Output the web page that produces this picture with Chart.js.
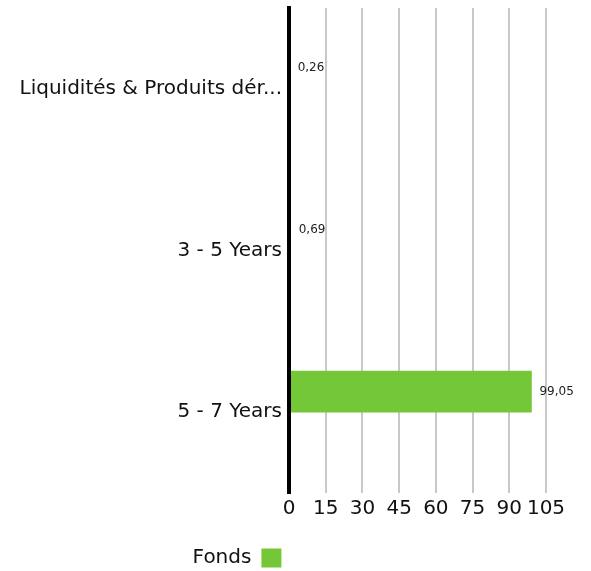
<!DOCTYPE html>
<html>
<head>
<meta charset="utf-8">
<script src="https://cdn.jsdelivr.net/npm/chart.js@4/dist/chart.umd.min.js"></script>
<style>
  html, body { margin: 0; padding: 0; background: #ffffff; }
  #wrap { width: 591px; height: 571px; position: relative; }
</style>
</head>
<body>
<div id="wrap"><canvas id="c" width="591" height="571"></canvas></div>
<script>
const categories = ["Liquidités & Produits dérivés", "3 - 5 Years", "5 - 7 Years"];
const fondsValues = [0.26, 0.69, 99.05];
const seriesLabel = "Fonds";
const xTicks = [0, 15, 30, 45, 60, 75, 90, 105];

const FONT = "'DejaVu Sans', sans-serif";

function truncate(s, n) {
  return s.length > n ? s.slice(0, n) + "..." : s;
}

const valueLabels = {
  id: 'valueLabels',
  afterDatasetsDraw(chart) {
    const ctx = chart.ctx;
    const meta = chart.getDatasetMeta(0);
    ctx.save();
    ctx.font = "12px " + FONT;
    ctx.fillStyle = '#222222';
    ctx.textAlign = 'left';
    ctx.textBaseline = 'middle';
    meta.data.forEach((bar, i) => {
      const v = chart.data.datasets[0].data[i];
      ctx.fillText(v.toFixed(2).replace('.', ','), bar.x + 8, bar.y);
    });
    ctx.restore();
  }
};

const legendShift = {
  id: 'legendShift',
  afterLayout(chart) {
    const lg = chart.legend;
    if (lg) { lg.left -= 36; lg.right -= 36; lg.top += 7; lg.bottom += 7; }
  }
};

new Chart(document.getElementById('c'), {
  type: 'bar',
  data: {
    labels: categories,
    datasets: [
      { label: seriesLabel, data: fondsValues, backgroundColor: '#74c837', borderWidth: 0, barThickness: 41 },
      { label: '', data: [null, null, null], backgroundColor: 'rgba(0,0,0,0)', borderWidth: 0, barThickness: 41 }
    ]
  },
  options: {
    indexAxis: 'y',
    responsive: false,
    animation: false,
    layout: { padding: { top: 8, right: 45, bottom: 0, left: 0 } },
    scales: {
      x: {
        min: 0, max: 105,
        afterBuildTicks(axis) { axis.ticks = xTicks.map(v => ({ value: v })); },
        ticks: { font: { family: FONT, size: 20 }, color: '#111111', padding: 4, maxRotation: 0, autoSkip: false },
        grid: { color: '#c8c8c8', lineWidth: 2, drawTicks: false },
        border: { display: false }
      },
      y: {
        z: 1,
        afterFit(scale) { scale.paddingTop = 0; scale.paddingBottom = 0; scale.width = 289; },
        ticks: {
          font: { family: FONT, size: 20 }, color: '#111111', padding: 7,
          callback(v) { return truncate(this.getLabelForValue(v), 25); }
        },
        grid: { display: false, drawTicks: false },
        border: { display: true, color: '#000000', width: 4, z: 1 }
      }
    },
    plugins: {
      legend: {
        position: 'bottom',
        rtl: true,
        textDirection: 'ltr',
        labels: {
          font: { family: FONT, size: 20 }, color: '#111111',
          boxWidth: 20, boxHeight: 19, padding: 16,
          filter: (item) => item.datasetIndex === 0
        }
      },
      tooltip: { enabled: false }
    }
  },
  plugins: [valueLabels, legendShift]
});
</script>
</body>
</html>
